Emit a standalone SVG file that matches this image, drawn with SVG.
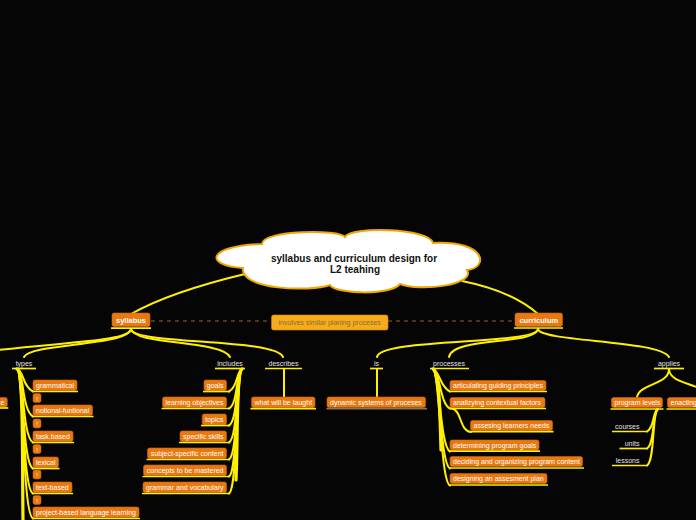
<svg xmlns="http://www.w3.org/2000/svg" width="696" height="520" viewBox="0 0 696 520">
<style>
.bx{fill:#e8780f;stroke:#c96508;stroke-width:.6}
.bt{font-family:"Liberation Sans",Arial,sans-serif;font-size:7px;fill:#ffffff}
.lt{font-family:"Liberation Sans",Arial,sans-serif;font-size:7px;fill:#e2e2e2}
.ul{stroke:#fff000;stroke-width:1.7}
.c{fill:none;stroke:#fff000;stroke-width:2;stroke-linecap:round}
.t{fill:none;stroke:#fff000;stroke-width:3.2;stroke-linecap:round}
.m{fill:none;stroke:#fff000;stroke-width:2}
.main{fill:#e8780f;stroke:#c96508;stroke-width:.6}
.mt{font-family:"Liberation Sans",Arial,sans-serif;font-size:7.5px;font-weight:bold;fill:#ffffff}
.ex{fill:#e8780f;stroke:#c96508;stroke-width:.5}
.et{font-family:"Liberation Sans",Arial,sans-serif;font-size:6px;fill:#ffffff}
</style>
<rect x="0" y="0" width="696" height="520" fill="#050505"/>

<g id="connectors">
  <path class="m" d="M245 274 Q170 292 131 314"/>
  <path class="m" d="M462 281 Q512 291 538 314"/>
  <line x1="151" y1="321" x2="271" y2="321" stroke="#94661c" stroke-width="1.2" stroke-dasharray="4 4"/>
  <line x1="388" y1="321" x2="515" y2="321" stroke="#94661c" stroke-width="1.2" stroke-dasharray="4 4"/>
  <!-- syllabus branches -->
  <path class="c" d="M131 329 C129 342 60 342 -10 351" stroke-width="2.6"/>
  <path class="c" d="M131 329 C128 346 30 343 24 357"/>
  <path class="c" d="M131 329 C133 345 222 340 230 357"/>
  <path class="c" d="M131 329 C133 345 275 338 283 357"/>
  <!-- curriculum branches -->
  <path class="c" d="M538 329 C536 345 380 338 377 357"/>
  <path class="c" d="M538 329 C536 345 452 337 449 357"/>
  <path class="c" d="M538 329 C540 342 660 340 669 357"/>
  <!-- types children -->
  <path class="t" d="M17 369 C24 371 22 450 23 520"/>
  <path class="c" d="M17 369 C24 371 22 386 33 391.5"/>
  <path class="c" d="M17 369 C24 371 22 411 33 416.5"/>
  <path class="c" d="M17 369 C24 371 22 437 33 442.5"/>
  <path class="c" d="M17 369 C24 371 22 463 33 468.5"/>
  <path class="c" d="M17 369 C24 371 22 488 33 493.5"/>
  <path class="c" d="M17 369 C24 371 22 513 33 518.5"/>
  <!-- includes children -->
  <path class="t" d="M242 369 C236 372 238 440 236 480"/>
  <path class="c" d="M242 369 C236 372 238 387 229 391.5"/>
  <path class="c" d="M242 369 C236 372 238 404 229 408.5"/>
  <path class="c" d="M242 369 C236 372 238 421 229 425.5"/>
  <path class="c" d="M242 369 C236 372 238 438 229 442.5"/>
  <path class="c" d="M242 369 C236 372 238 455 229 459.5"/>
  <path class="c" d="M242 369 C236 372 238 472 229 476.5"/>
  <path class="c" d="M242 369 C236 372 238 489 229 493.5"/>
  <!-- describes / is -->
  <line class="c" x1="284" y1="369" x2="284" y2="397"/>
  <line class="c" x1="377" y1="369" x2="377" y2="397"/>
  <!-- processes children -->
  <path class="t" d="M433 369 C440 372 440 420 441 450"/>
  <path class="c" d="M433 369 C440 372 440 387 450 391.5"/>
  <path class="c" d="M433 369 C440 372 440 404 450 408.5"/>
  <path class="c" d="M433 369 C440 372 440 447 450 451.5"/>
  <path class="c" d="M433 369 C440 372 440 464 450 468.5"/>
  <path class="c" d="M433 369 C440 372 440 481 450 485.5"/>
  <path class="c" d="M451 408.5 C462 409 459 431 471 432"/>
  <!-- applies children -->
  <path class="c" d="M669 369 C669 385 640 383 637 397"/>
  <path class="c" d="M669 369 C670 385 700 382 712 397"/>
  <!-- program levels children -->
  <path class="c" d="M658 409 C652 412 655 427 647 431.5"/>
  <path class="c" d="M658 409 C652 412 655 444 647 448.5"/>
  <path class="c" d="M658 409 C652 412 655 461 647 465.5"/>
</g>

<g id="central">
  <path d="M243 268 C205 266 205 246 262 244 C262 230 340 229 345 237 C350 226 430 228 433 243 C487 240 489 268 467 270 C476 285 420 292 400 284 C390 296 335 294 330 285 C310 292 240 290 243 268 Z" fill="#ffffff" stroke="#f0a800" stroke-width="2"/>
  <text x="354" y="261.5" text-anchor="middle" font-family="Liberation Sans,Arial,sans-serif" font-size="10" font-weight="bold" fill="#111">syllabus and curriculum design for</text>
  <text x="355" y="272.5" text-anchor="middle" font-family="Liberation Sans,Arial,sans-serif" font-size="10" font-weight="bold" fill="#111">L2 teahing</text>
</g>

<g id="syllabus">
  <rect class="main" x="112" y="313" width="38" height="13.5" rx="2"/>
  <text class="mt" x="131" y="322.8" text-anchor="middle">syllabus</text>
  <line class="ul" x1="111" y1="328.2" x2="151" y2="328.2" stroke-width="2"/>
</g>
<g id="curriculum">
  <rect class="main" x="515" y="313" width="47.5" height="13.5" rx="2"/>
  <text class="mt" x="538.8" y="322.8" text-anchor="middle">curriculum</text>
  <line class="ul" x1="514" y1="328" x2="563" y2="328" stroke-width="2"/>
</g>
<g id="involves">
  <rect x="271.5" y="315" width="116.5" height="15" rx="2" fill="#f7ab1b" stroke="#d08900" stroke-width=".6"/>
  <text x="329.7" y="325.2" text-anchor="middle" font-family="Liberation Sans,Arial,sans-serif" font-size="7" fill="#86703c">involves similar planing proceses</text>
</g>

<g id="types"><text class="lt" x="24" y="365.5" text-anchor="middle">types</text><line class="ul" x1="12" y1="368.5" x2="36" y2="368.5"/></g>
<g id="includes"><text class="lt" x="230" y="365.5" text-anchor="middle">includes</text><line class="ul" x1="215" y1="368.5" x2="245" y2="368.5"/></g>
<g id="describes"><text class="lt" x="283.5" y="365.5" text-anchor="middle">describes</text><line class="ul" x1="265" y1="368.5" x2="302" y2="368.5"/></g>
<g id="is"><text class="lt" x="376.5" y="365.5" text-anchor="middle">is</text><line class="ul" x1="370" y1="368.5" x2="383" y2="368.5"/></g>
<g id="processes"><text class="lt" x="449" y="365.5" text-anchor="middle">processes</text><line class="ul" x1="430" y1="368.5" x2="469" y2="368.5"/></g>
<g id="applies"><text class="lt" x="669" y="365.5" text-anchor="middle">applies</text><line class="ul" x1="654" y1="368.5" x2="684" y2="368.5"/></g>

<g id="offscreen-e"><rect class="bx" x="-20" y="397.5" width="27.3" height="9.5" rx="2"/><text class="bt" x="4.3" y="405" text-anchor="end">e</text><line class="ul" x1="-20" y1="408" x2="8.3" y2="408"/></g>

<!-- types children -->
<g id="grammatical"><rect class="bx" x="33" y="380" width="44" height="10.5" rx="2"/><text class="bt" x="36" y="388">grammatical</text><line class="ul" x1="32" y1="391.5" x2="78" y2="391.5"/></g>
<g id="ex1"><rect class="ex" x="33" y="393.5" width="8" height="9" rx="2"/><text class="et" x="37" y="400.5" text-anchor="middle">!</text></g>
<g id="notional-funtional"><rect class="bx" x="33" y="405" width="59.5" height="10.5" rx="2"/><text class="bt" x="36" y="413">notional-funtional</text><line class="ul" x1="32" y1="416.5" x2="93.5" y2="416.5"/></g>
<g id="ex2"><rect class="ex" x="33" y="419" width="8" height="9" rx="2"/><text class="et" x="37" y="426" text-anchor="middle">!</text></g>
<g id="task-based"><rect class="bx" x="33" y="431" width="40" height="10.5" rx="2"/><text class="bt" x="36" y="439">task.based</text><line class="ul" x1="32" y1="442.5" x2="74" y2="442.5"/></g>
<g id="ex3"><rect class="ex" x="33" y="444.5" width="8" height="9" rx="2"/><text class="et" x="37" y="451.5" text-anchor="middle">!</text></g>
<g id="lexical"><rect class="bx" x="33" y="457" width="25.5" height="10.5" rx="2"/><text class="bt" x="36" y="465">lexical</text><line class="ul" x1="32" y1="468.5" x2="59.5" y2="468.5"/></g>
<g id="ex4"><rect class="ex" x="33" y="470" width="8" height="9" rx="2"/><text class="et" x="37" y="477" text-anchor="middle">!</text></g>
<g id="text-based"><rect class="bx" x="33" y="482" width="39" height="10.5" rx="2"/><text class="bt" x="36" y="490">text-based</text><line class="ul" x1="32" y1="493.5" x2="73" y2="493.5"/></g>
<g id="ex5"><rect class="ex" x="33" y="495.5" width="8" height="9" rx="2"/><text class="et" x="37" y="502.5" text-anchor="middle">!</text></g>
<g id="project-based"><rect class="bx" x="33" y="507" width="106" height="10.5" rx="2"/><text class="bt" x="36" y="515">project-based language learning</text><line class="ul" x1="32" y1="518.5" x2="140" y2="518.5"/></g>

<!-- includes children -->
<g id="goals"><rect class="bx" x="204" y="380" width="22.5" height="10.5" rx="2"/><text class="bt" x="223.5" y="388" text-anchor="end">goals</text><line class="ul" x1="203" y1="391.5" x2="230" y2="391.5"/></g>
<g id="learning-objectives"><rect class="bx" x="162.5" y="397" width="64" height="10.5" rx="2"/><text class="bt" x="223.5" y="405" text-anchor="end">learning objectives</text><line class="ul" x1="161.5" y1="408.5" x2="230" y2="408.5"/></g>
<g id="topics"><rect class="bx" x="202.2" y="414" width="24.3" height="10.5" rx="2"/><text class="bt" x="223.5" y="422" text-anchor="end">topics</text><line class="ul" x1="201" y1="425.5" x2="230" y2="425.5"/></g>
<g id="specific-skills"><rect class="bx" x="180" y="431" width="46.5" height="10.5" rx="2"/><text class="bt" x="223.5" y="439" text-anchor="end">specific skills</text><line class="ul" x1="179" y1="442.5" x2="230" y2="442.5"/></g>
<g id="subject-specific"><rect class="bx" x="147.5" y="448" width="79" height="10.5" rx="2"/><text class="bt" x="223.5" y="456" text-anchor="end">subject-specific content</text><line class="ul" x1="146.5" y1="459.5" x2="230" y2="459.5"/></g>
<g id="concepts"><rect class="bx" x="143.5" y="465" width="83" height="10.5" rx="2"/><text class="bt" x="223.5" y="473" text-anchor="end">concepts to be mastered</text><line class="ul" x1="142.5" y1="476.5" x2="230" y2="476.5"/></g>
<g id="grammar-vocab"><rect class="bx" x="143" y="482" width="83.5" height="10.5" rx="2"/><text class="bt" x="223.5" y="490" text-anchor="end">grammar and vocabulary</text><line class="ul" x1="142" y1="493.5" x2="230" y2="493.5"/></g>

<g id="what-taught"><rect class="bx" x="251.5" y="397" width="63.5" height="10.5" rx="2"/><text class="bt" x="254.5" y="405">what will be taught</text><line class="ul" x1="250.5" y1="408.7" x2="316" y2="408.7"/></g>
<g id="dynamic"><rect class="bx" x="327" y="397" width="98.5" height="10.5" rx="2"/><text class="bt" x="330" y="405">dynamic systems of proceses</text><line x1="326.5" y1="408.7" x2="427" y2="408.7" stroke="#8a7558" stroke-width="1.7"/></g>

<!-- processes children -->
<g id="articulating"><rect class="bx" x="450" y="380.5" width="96" height="10" rx="2"/><text class="bt" x="453" y="388.2">articulating guiding principles</text><line class="ul" x1="449" y1="391.5" x2="547" y2="391.5"/></g>
<g id="analizying"><rect class="bx" x="450" y="397.5" width="95" height="10" rx="2"/><text class="bt" x="453" y="405.2">analizying contextual factors</text><line class="ul" x1="449" y1="408.5" x2="546" y2="408.5"/></g>
<g id="assesing"><rect class="bx" x="470.5" y="420.5" width="82" height="10" rx="2"/><text class="bt" x="473.5" y="428.2">assesing learners needs</text><line class="ul" x1="470" y1="431.7" x2="553.5" y2="431.7"/></g>
<g id="determining"><rect class="bx" x="450" y="440" width="89" height="10" rx="2"/><text class="bt" x="453" y="447.7">determining program goals</text><line class="ul" x1="449" y1="451.2" x2="540" y2="451.2"/></g>
<g id="deciding"><rect class="bx" x="450" y="456.5" width="132.5" height="10" rx="2"/><text class="bt" x="453" y="464.2">deciding and organizing program content</text><line class="ul" x1="449" y1="468" x2="584" y2="468"/></g>
<g id="designing"><rect class="bx" x="450" y="473.5" width="97" height="10" rx="2"/><text class="bt" x="453" y="481.2">designing an assesment plan</text><line class="ul" x1="449" y1="485" x2="548" y2="485"/></g>

<!-- applies children -->
<g id="program-levels"><rect class="bx" x="611.5" y="397.5" width="51" height="10" rx="2"/><text class="bt" x="614.5" y="405.2">program levels</text><line class="ul" x1="610.5" y1="409" x2="663.5" y2="409"/></g>
<g id="enacting"><rect class="bx" x="667.5" y="397.5" width="60" height="10" rx="2"/><text class="bt" x="670.5" y="405.2">enacting</text><line class="ul" x1="666.5" y1="409" x2="700" y2="409"/></g>
<g id="courses"><text class="lt" x="639.5" y="428.5" text-anchor="end">courses</text><line class="ul" x1="612" y1="431.5" x2="648" y2="431.5"/></g>
<g id="units"><text class="lt" x="639.5" y="445.5" text-anchor="end">units</text><line class="ul" x1="619.5" y1="448.5" x2="648" y2="448.5"/></g>
<g id="lessons"><text class="lt" x="639.5" y="462.5" text-anchor="end">lessons</text><line class="ul" x1="612" y1="465.5" x2="648" y2="465.5"/></g>
</svg>
